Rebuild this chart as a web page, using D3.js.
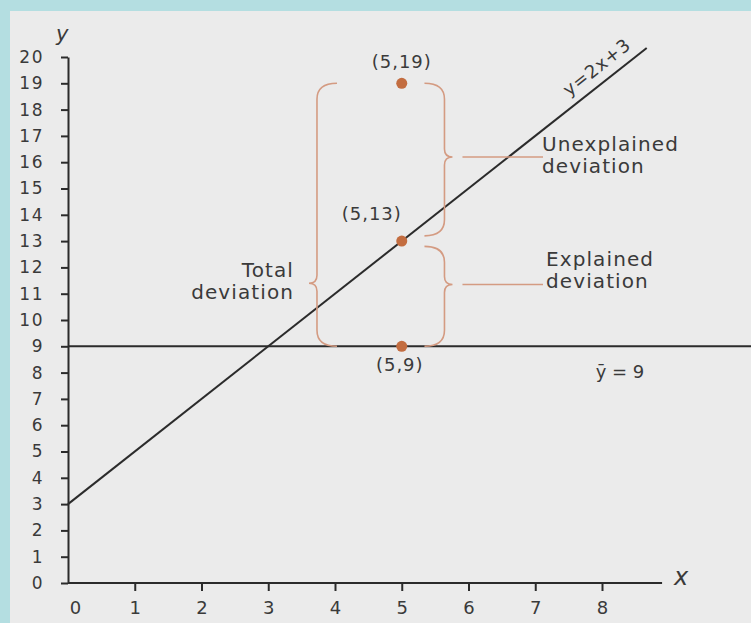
<!DOCTYPE html>
<html>
<head>
<meta charset="utf-8">
<script src="https://cdn.jsdelivr.net/npm/d3@7"></script>
<style>
  body { margin: 0; background: #b4dee1; }
  svg text { font-family: "DejaVu Sans", sans-serif; fill: #3a3a3a; }
</style>
</head>
<body>
<div id="chart"></div>
<script>
// Chart data
var xTicks = [0, 1, 2, 3, 4, 5, 6, 7, 8];
var yTicks = [0, 1, 2, 3, 4, 5, 6, 7, 8, 9, 10, 11, 12, 13, 14, 15, 16, 17, 18, 19, 20];
var pointX = [5, 5, 5];
var pointY = [19, 13, 9];
var pointLabels = ["(5,19)", "(5,13)", "(5,9)"];
var slope = 2;
var intercept = 3;
var yMean = 9;
var lineEndX = 8.67;

// braces: x of spine, y from, y to, y of tip, side
var braces = [
    { x: 3.73, from: 19, to: 9, tip: 11.4, side: "left" },
    { x: 5.64, from: 19, to: 13.2, tip: 16.2, side: "right" },
    { x: 5.64, from: 12.8, to: 9, tip: 11.35, side: "right" }
];

var w = 751;
var h = 623;

var x = d3.scaleLinear().domain([0, 8]).range([68, 602]);
var y = d3.scaleLinear().domain([0, 20]).range([583, 57]);

var svg = d3.select("#chart")
    .append("svg")
    .attr("width", w)
    .attr("height", h);

// paper panel
svg.append("rect")
    .attr("x", 10).attr("y", 11)
    .attr("width", w - 10).attr("height", h - 11)
    .style("fill", "#ebebeb");

var ink = "#2b2b2b";
var brown = "#d49b82";

// Y axis
var yAxis = svg.append("g")
    .attr("transform", "translate(" + x(0) + ",0)")
    .call(d3.axisLeft(y).tickValues(yTicks).tickSize(7).tickSizeOuter(0).tickPadding(17));
yAxis.select(".domain").style("stroke", ink).style("stroke-width", 2);
yAxis.selectAll(".tick line").style("stroke", ink).style("stroke-width", 2);
yAxis.selectAll(".tick text")
    .style("font-size", "17px")
    .style("letter-spacing", "1.5px")
    .style("font-family", "DejaVu Sans, sans-serif")
    .style("fill", "#3a3a3a");

// X axis
var xAxis = svg.append("g")
    .attr("transform", "translate(0," + y(0) + ")")
    .call(d3.axisBottom(x).tickValues(xTicks).tickSize(8).tickSizeOuter(0).tickPadding(10));
xAxis.select(".domain").remove();
xAxis.selectAll(".tick line")
    .style("stroke", ink).style("stroke-width", 2)
    .style("opacity", function (d) { return d === 0 ? 0 : 1; });
xAxis.selectAll(".tick text")
    .style("font-size", "18px")
    .style("font-family", "DejaVu Sans, sans-serif")
    .style("fill", "#3a3a3a")
    .attr("dx", function (d) { return d === 0 ? 7 : 0; });

svg.append("line")
    .attr("x1", x(0)).attr("x2", x(8.9))
    .attr("y1", y(0)).attr("y2", y(0))
    .style("stroke", ink).style("stroke-width", 2);

svg.append("text").attr("x", x(8.9) + 12).attr("y", y(0) + 2)
    .style("font-size", "24px").style("font-style", "italic").text("x");
svg.append("text").attr("x", x(0) - 12).attr("y", y(20) - 16)
    .style("font-size", "21px").style("font-style", "italic").text("y");

// mean line
svg.append("line")
    .attr("x1", x(0)).attr("x2", w)
    .attr("y1", y(yMean)).attr("y2", y(yMean))
    .style("stroke", ink).style("stroke-width", 2);

// regression line
svg.append("line")
    .attr("x1", x(0)).attr("y1", y(intercept))
    .attr("x2", x(lineEndX)).attr("y2", y(slope * lineEndX + intercept))
    .style("stroke", ink).style("stroke-width", 2);

var ang = Math.atan2(y(slope * lineEndX + intercept) - y(intercept), x(lineEndX) - x(0)) * 180 / Math.PI;
svg.append("text")
    .attr("transform", "translate(" + (x(7.95) + 2) + "," + (y(slope * 7.95 + intercept) - 14) + ") rotate(" + ang + ")")
    .style("font-size", "18px")
    .style("letter-spacing", "1px")
    .attr("text-anchor", "middle")
    .text("y=2x+3");

// braces
function bracePath(b) {
    var s = b.side === "left" ? 1 : -1;
    var xv = x(b.x), xe = xv + s * 20, xc = xv - s * 8;
    var y0 = y(b.from), y1 = y(b.to), ym = y(b.tip), r = 16, rc = 8;
    return "M" + xe + "," + y0 +
        "Q" + xv + "," + y0 + " " + xv + "," + (y0 + r) +
        "L" + xv + "," + (ym - rc) +
        "Q" + xv + "," + ym + " " + xc + "," + ym +
        "Q" + xv + "," + ym + " " + xv + "," + (ym + rc) +
        "L" + xv + "," + (y1 - r) +
        "Q" + xv + "," + y1 + " " + xe + "," + y1;
}

svg.selectAll("path.brace")
    .data(braces)
    .enter()
    .append("path")
    .attr("class", "brace")
    .attr("d", bracePath)
    .style("fill", "none")
    .style("stroke", brown)
    .style("stroke-width", 1.6);

// leader lines from right braces
svg.selectAll("line.leader")
    .data(braces.filter(function (b) { return b.side === "right"; }))
    .enter()
    .append("line")
    .attr("class", "leader")
    .attr("x1", function (b) { return x(b.x) + 18; })
    .attr("x2", 543)
    .attr("y1", function (b) { return y(b.tip); })
    .attr("y2", function (b) { return y(b.tip); })
    .style("stroke", brown)
    .style("stroke-width", 1.6);

// points
svg.selectAll("circle")
    .data(pointX)
    .enter()
    .append("circle")
    .attr("cx", function (d) { return x(d); })
    .attr("cy", function (d, i) { return y(pointY[i]); })
    .attr("r", 5.5)
    .style("fill", "#c36d40");

var labelPos = [[0, -15], [-30, -21], [-2, 25]];
svg.selectAll("text.plabel")
    .data(pointLabels)
    .enter()
    .append("text")
    .attr("class", "plabel")
    .attr("x", function (d, i) { return x(pointX[i]) + labelPos[i][0]; })
    .attr("y", function (d, i) { return y(pointY[i]) + labelPos[i][1]; })
    .attr("text-anchor", "middle")
    .style("font-size", "18px")
    .style("letter-spacing", "1px")
    .text(function (d) { return d; });

// annotations
function twoLines(txt, xp, yp, anchor) {
    var t = svg.append("text").attr("x", xp).attr("y", yp)
        .attr("text-anchor", anchor)
        .style("font-size", "20px")
        .style("letter-spacing", "1.1px");
    t.append("tspan").attr("x", xp).text(txt[0]);
    t.append("tspan").attr("x", xp).attr("dy", 22).text(txt[1]);
}
twoLines(["Total", "deviation"], 294, 277, "end");
twoLines(["Unexplained", "deviation"], 542, 151, "start");
twoLines(["Explained", "deviation"], 546, 266, "start");

svg.append("text")
    .attr("x", 620).attr("y", y(yMean) + 32)
    .attr("text-anchor", "middle")
    .style("font-size", "18px")
    .text("ȳ = 9");
</script>
</body>
</html>
